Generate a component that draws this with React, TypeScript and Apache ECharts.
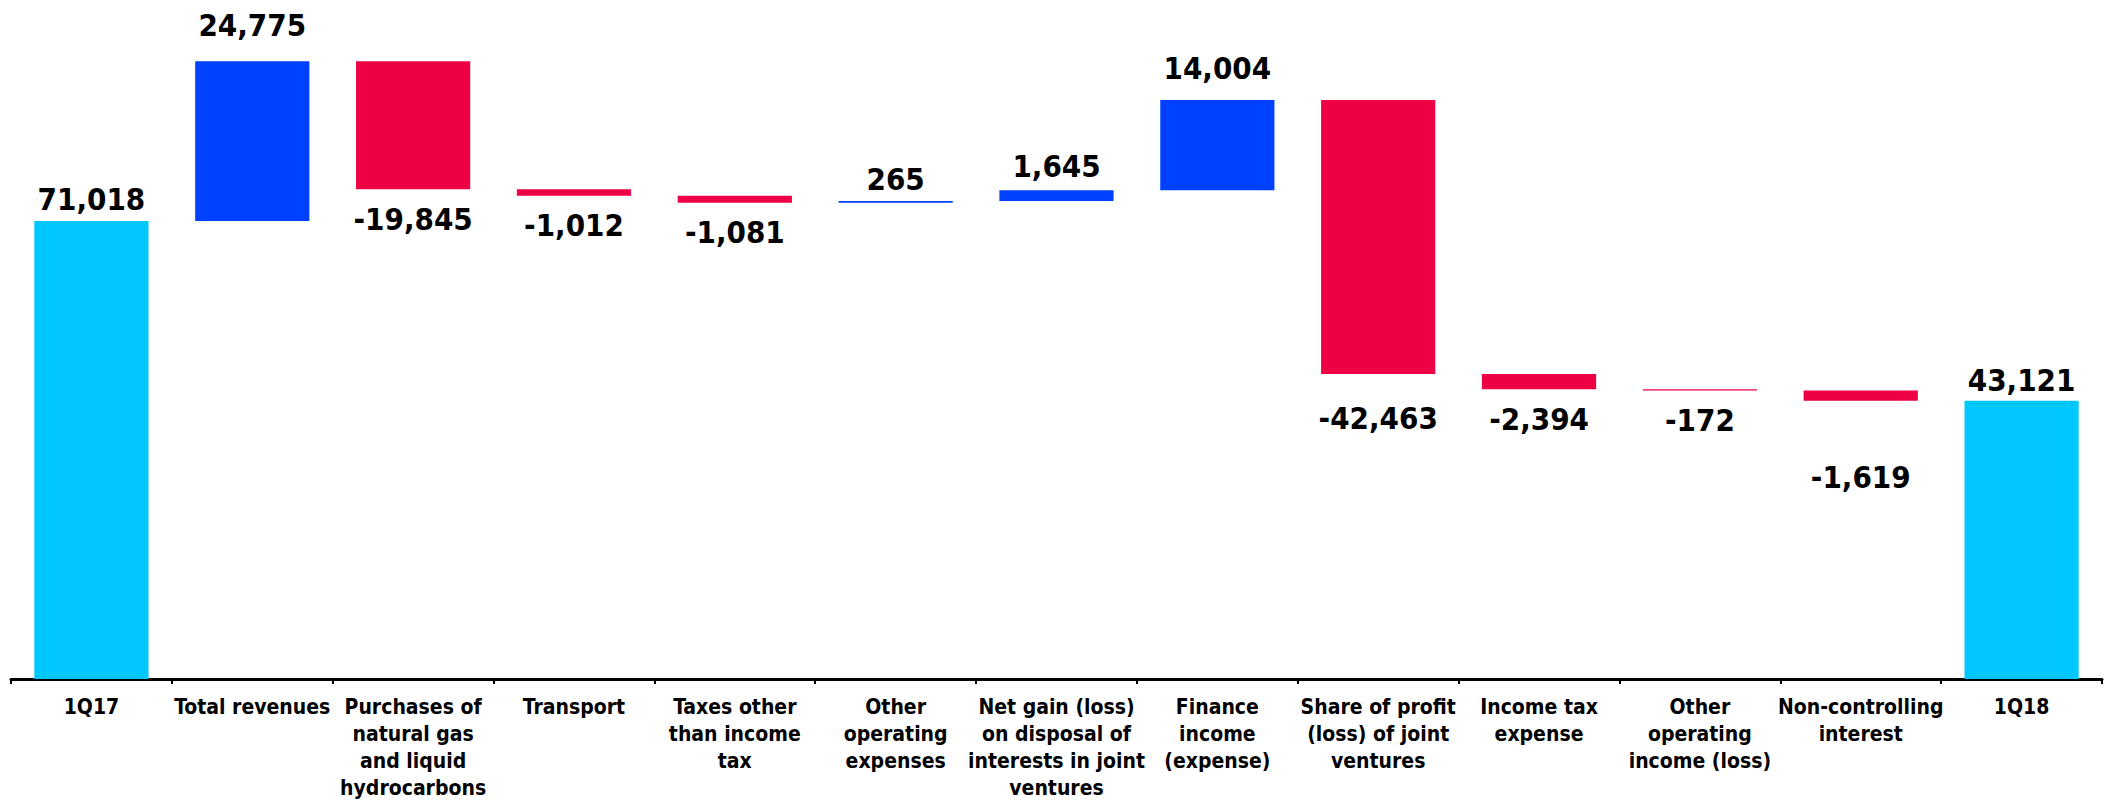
import React, { useEffect, useRef } from "react";
import * as echarts from "echarts";

const categories = [
  "1Q17",
  "Total revenues",
  "Purchases of\nnatural gas\nand liquid\nhydrocarbons",
  "Transport",
  "Taxes other\nthan income\ntax",
  "Other\noperating\nexpenses",
  "Net gain (loss)\non disposal of\ninterests in joint\nventures",
  "Finance\nincome\n(expense)",
  "Share of profit\n(loss) of joint\nventures",
  "Income tax\nexpense",
  "Other\noperating\nincome (loss)",
  "Non-controlling\ninterest",
  "1Q18",
];

// change per step; first and last are totals
const deltas = [71018, 24775, -19845, -1012, -1081, 265, 1645, 14004, -42463, -2394, -172, -1619, 43121];
const isTotal = [true, false, false, false, false, false, false, false, false, false, false, false, true];

// label distances (styling only)
const labelDistances = [6, 21, 14, 14, 14, 6, 9, 16, 29, 14, 14, 61, 5];

const COLOR_TOTAL = "#00C8FF";
const COLOR_UP = "#0041FF";
const COLOR_DOWN = "#EE0044";
const FONT = "'Liberation Sans Narrow', 'DejaVu Sans Condensed', 'Liberation Sans', sans-serif";

export default function App() {
  const ref = useRef<HTMLDivElement>(null);
  useEffect(() => {
    document.body.style.margin = "0";
    if (!ref.current) return;
    const chart = echarts.init(ref.current, undefined, { renderer: "svg" });

    const base: number[] = [];
    const vals: any[] = [];
    let running = 0;
    deltas.forEach((d, i) => {
      let b: number;
      let h: number;
      let color: string;
      if (isTotal[i]) {
        b = 0;
        h = d;
        running = d;
        color = COLOR_TOTAL;
      } else if (d >= 0) {
        b = running;
        h = d;
        running += d;
        color = COLOR_UP;
      } else {
        running += d;
        b = running;
        h = -d;
        color = COLOR_DOWN;
      }
      base.push(b);
      const neg = !isTotal[i] && d < 0;
      vals.push({
        value: h,
        itemStyle: { color },
        label: {
          show: true,
          position: neg ? "bottom" : "top",
          distance: labelDistances[i],
          formatter: () => d.toLocaleString("en-US"),
        },
      });
    });

    chart.setOption({
      animation: false,
      grid: { left: 11, right: 7, top: 34, bottom: 118, containLabel: false },
      xAxis: {
        type: "category",
        data: categories,
        axisLine: { lineStyle: { color: "#000", width: 3 } },
        axisTick: { show: true, length: 5, lineStyle: { color: "#000", width: 2 } },
        axisLabel: {
          interval: 0,
          color: "#000",
          fontFamily: FONT,
          fontWeight: "bold",
          fontSize: 21,
          lineHeight: 27,
          margin: 14,
        },
      },
      yAxis: {
        type: "value",
        min: 0,
        max: 100000,
        show: false,
        splitLine: { show: false },
      },
      series: [
        {
          type: "bar",
          stack: "w",
          data: base,
          itemStyle: { color: "transparent" },
          silent: true,
          barWidth: "71%",
        },
        {
          type: "bar",
          stack: "w",
          data: vals,
          barWidth: "71%",
          label: {
            show: true,
            color: "#000",
            fontFamily: FONT,
            fontWeight: "bold",
            fontSize: 31,
          },
        },
      ],
    });
    return () => chart.dispose();
  }, []);
  return <div ref={ref} style={{ width: 2109, height: 801 }} />;
}
